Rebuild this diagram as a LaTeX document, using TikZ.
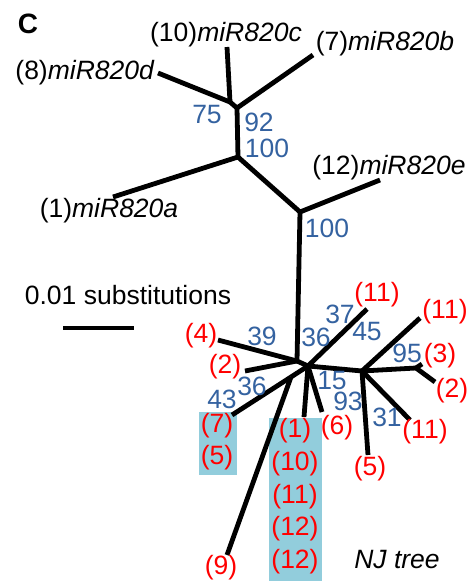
\documentclass[tikz,border=0pt]{standalone}
\usepackage{fontspec}
\setmainfont{Liberation Sans}
\definecolor{bsblue}{RGB}{52,98,160}
\definecolor{boxblue}{RGB}{146,205,220}
\definecolor{lblred}{RGB}{255,0,0}
\begin{document}
\begin{tikzpicture}[x=1pt,y=-1pt,
  br/.style={line width=4.8pt,line cap=butt,line join=round},
  lbl/.style={inner sep=0pt,font=\fontsize{26.5}{30}\selectfont},
  bs/.style={lbl,text=bsblue},
  rl/.style={lbl,text=lblred},
  bg/.style={fill=boxblue,draw=none}]
\useasboundingbox (0,0) rectangle (472,584);
% highlight boxes
\fill[bg] (199,412) rectangle (237,475);
\fill[bg] (269,418) rectangle (322,581);
% coordinates
\coordinate (tD) at (158,73);
\coordinate (tC) at (227,47);
\coordinate (nA) at (230,102);
\coordinate (nB) at (237,108);
\coordinate (tB) at (313,55);
\coordinate (nC) at (238,157);
\coordinate (tA) at (113,197);
\coordinate (nD) at (300,212);
\coordinate (tE) at (380,180);
\coordinate (nE1) at (297,361);
\coordinate (t4) at (218,340);
\coordinate (t2L) at (245,371);
\coordinate (nE2) at (308,366);
\coordinate (t11a) at (367,309);
\coordinate (nF) at (362,371);
\coordinate (t11b) at (420,318);
\coordinate (nG) at (416,368);
\coordinate (t3) at (422,364);
\coordinate (t2R) at (435,382);
\coordinate (t11c) at (410,420);
\coordinate (t5) at (368,455);
\coordinate (t6) at (322,412);
\coordinate (t1) at (304,417);
\coordinate (nH) at (291,377);
\coordinate (t7) at (232,415);
\coordinate (t9) at (227,555);
\coordinate (sbL) at (63,328);
\coordinate (sbR) at (134,328);
% branches
\draw[br] (tD) -- (nA);
\draw[br] (tC) -- (nA);
\draw[br] (nA) -- (nB);
\draw[br] (tB) -- (nB);
\draw[br] (nB) -- (nC);
\draw[br] (tA) -- (nC);
\draw[br] (nC) -- (nD);
\draw[br] (tE) -- (nD);
\draw[br] (nD) -- (nE1);
\draw[br] (t4) -- (nE1);
\draw[br] (t2L) -- (nE1);
\draw[br] (nE1) -- (nE2);
\draw[br] (nE2) -- (t11a);
\draw[br] (nE2) -- (nF);
\draw[br] (nF) -- (t11b);
\draw[br] (nF) -- (nG);
\draw[br] (nG) -- (t3);
\draw[br] (nG) -- (t2R);
\draw[br] (nF) -- (t11c);
\draw[br] (nF) -- (t5);
\draw[br] (nE2) -- (t6);
\draw[br] (nE2) -- (t1);
\draw[br] (nE2) -- (nH);
\draw[br] (nH) -- (t7);
\draw[br] (nH) -- (t9);
\draw[br] (sbL) -- (sbR);
% labels
\node[inner sep=0pt,font=\fontsize{28}{32}\selectfont\bfseries] (panel) at (28,24) {C};
\node[lbl] (lc) at (226,35) {(10)\textit{miR820c}};
\node[lbl] (lb) at (385,44) {(7)\textit{miR820b}};
\node[lbl] (ld) at (85,73) {(8)\textit{miR820d}};
\node[lbl] (la) at (109,211) {(1)\textit{miR820a}};
\node[lbl] (le) at (389,168) {(12)\textit{miR820e}};
\node[lbl] (scale) at (128,295) {0.01 substitutions};
\node[lbl] (nj) at (397,560) {\textit{NJ tree}};
% bootstrap values
\node[bs] (b75) at (207,115) {75};
\node[bs] (b92) at (259,122) {92};
\node[bs] (b100a) at (267,148) {100};
\node[bs] (b100b) at (327,228) {100};
\node[bs] (b39) at (262,336) {39};
\node[bs] (b36a) at (316,337) {36};
\node[bs] (b37) at (340,314) {37};
\node[bs] (b45) at (367,332) {45};
\node[bs] (b95) at (407,353) {95};
\node[bs] (b36b) at (252,386) {36};
\node[bs] (b43) at (222,399) {43};
\node[bs] (b15) at (332,381) {15};
\node[bs] (b93) at (348,401) {93};
\node[bs] (b31) at (387,417) {31};
% red labels
\node[rl] (r4) at (201,336) {(4)};
\node[rl] (r2L) at (225,367) {(2)};
\node[rl] (r11a) at (377,295) {(11)};
\node[rl] (r11b) at (445,312) {(11)};
\node[rl] (r3) at (440,356) {(3)};
\node[rl] (r2R) at (452,391) {(2)};
\node[rl] (r6) at (337,428) {(6)};
\node[rl] (r11c) at (425,432) {(11)};
\node[rl] (r5) at (370,469) {(5)};
\node[rl] (r7) at (217,426) {(7)};
\node[rl] (r5b) at (217,458) {(5)};
\node[rl] (r1) at (295,431) {(1)};
\node[rl] (r10) at (295,464) {(10)};
\node[rl] (r11d) at (295,497) {(11)};
\node[rl] (r12a) at (295,529) {(12)};
\node[rl] (r12b) at (295,562) {(12)};
\node[rl] (r9) at (221,568) {(9)};
\end{tikzpicture}
\end{document}
